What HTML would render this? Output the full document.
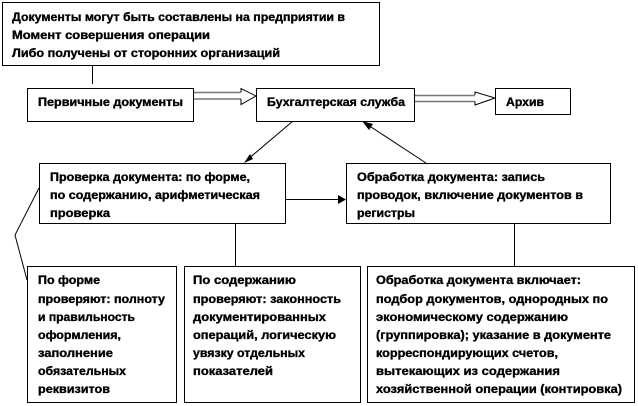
<!DOCTYPE html>
<html lang="ru">
<head>
<meta charset="utf-8">
<title>Документооборот</title>
<style>
html,body{margin:0;padding:0;background:#fff;width:638px;height:406px;overflow:hidden}
svg{display:block}
text{font-family:"Liberation Sans",Arial,sans-serif;font-size:12px;font-weight:bold;fill:#000;stroke:#000;stroke-width:.35}
.b{fill:#fff;stroke:#000;stroke-width:1;shape-rendering:crispEdges}
.l{fill:none;stroke:#000;stroke-width:1}
.g{fill:none;stroke:#777;stroke-width:1.4}
</style>
</head>
<body>
<svg width="638" height="406" viewBox="0 0 638 406" xmlns="http://www.w3.org/2000/svg">
<!-- connectors -->
<path class="l" d="M92.5 65V84"/>
<path class="l" d="M293 121L247 160"/>
<path d="M244 163L250 154L253 159Z" fill="#000"/>
<path class="l" d="M426 163L368 125"/>
<path d="M362 121L373 124L369 130Z" fill="#000"/>
<path class="l" d="M285 199.5H340"/>
<path d="M346 199.5L338 195V204Z" fill="#000"/>
<path class="l" d="M235.5 223V267"/>
<path class="l" d="M514.5 223V266"/>
<path class="l" d="M39 188L15 235L27 280" stroke-width=".8"/>
<!-- double arrows -->
<path class="g" d="M193 92.5H241M193 99H241"/>
<path class="l" d="M241 92V88.5L256 96L241 104.5V99" stroke="#444"/>
<path class="g" d="M414 95.5H475M414 101.5H475"/>
<path class="l" d="M475 95V92L495 98L475 105V101.5" stroke="#444"/>
<!-- boxes -->
<rect class="b" x="2.5" y="2.5" width="377" height="63"/>
<rect class="b" x="27.5" y="88.5" width="166" height="33"/>
<rect class="b" x="256.5" y="88.5" width="158" height="33"/>
<rect class="b" x="495.5" y="88.5" width="75" height="26"/>
<rect class="b" x="39.5" y="163.5" width="246" height="60"/>
<rect class="b" x="346.5" y="163.5" width="264" height="60"/>
<rect class="b" style="fill:none" x="27.5" y="266.5" width="149" height="136"/>
<rect class="b" x="184.5" y="266.5" width="176" height="136"/>
<rect class="b" x="367.5" y="266.5" width="267" height="136"/>
<!-- labels -->
<text x="12" y="21" textLength="333" lengthAdjust="spacingAndGlyphs">Документы могут быть составлены на предприятии в</text>
<text x="12" y="39" textLength="198" lengthAdjust="spacingAndGlyphs">Момент совершения операции</text>
<text x="12" y="57" textLength="268" lengthAdjust="spacingAndGlyphs">Либо получены от сторонних организаций</text>
<text x="38" y="106" textLength="145" lengthAdjust="spacingAndGlyphs">Первичные документы</text>
<text x="267" y="106" textLength="138" lengthAdjust="spacingAndGlyphs">Бухгалтерская служба</text>
<text x="506" y="106" textLength="38" lengthAdjust="spacingAndGlyphs">Архив</text>

<text x="50" y="181" textLength="200" lengthAdjust="spacingAndGlyphs">Проверка документа: по форме,</text>
<text x="50" y="199" textLength="210" lengthAdjust="spacingAndGlyphs">по содержанию, арифметическая</text>
<text x="50" y="217" textLength="60" lengthAdjust="spacingAndGlyphs">проверка</text>

<text x="357" y="181" textLength="188" lengthAdjust="spacingAndGlyphs">Обработка документа: запись</text>
<text x="357" y="199" textLength="226" lengthAdjust="spacingAndGlyphs">проводок, включение документов в</text>
<text x="357" y="217" textLength="58" lengthAdjust="spacingAndGlyphs">регистры</text>

<text x="38" y="284" textLength="62" lengthAdjust="spacingAndGlyphs">По форме</text>
<text x="38" y="303" textLength="127" lengthAdjust="spacingAndGlyphs">проверяют: полноту</text>
<text x="38" y="321" textLength="97" lengthAdjust="spacingAndGlyphs">и правильность</text>
<text x="38" y="339" textLength="83" lengthAdjust="spacingAndGlyphs">оформления,</text>
<text x="38" y="357" textLength="75" lengthAdjust="spacingAndGlyphs">заполнение</text>
<text x="38" y="375" textLength="88" lengthAdjust="spacingAndGlyphs">обязательных</text>
<text x="38" y="393" textLength="72" lengthAdjust="spacingAndGlyphs">реквизитов</text>

<text x="193" y="284" textLength="103" lengthAdjust="spacingAndGlyphs">По содержанию</text>
<text x="193" y="303" textLength="148" lengthAdjust="spacingAndGlyphs">проверяют: законность</text>
<text x="193" y="321" textLength="133" lengthAdjust="spacingAndGlyphs">документированных</text>
<text x="193" y="339" textLength="143" lengthAdjust="spacingAndGlyphs">операций, логическую</text>
<text x="193" y="357" textLength="112" lengthAdjust="spacingAndGlyphs">увязку отдельных</text>
<text x="193" y="375" textLength="80" lengthAdjust="spacingAndGlyphs">показателей</text>

<text x="376" y="284" textLength="205" lengthAdjust="spacingAndGlyphs">Обработка документа включает:</text>
<text x="376" y="303" textLength="232" lengthAdjust="spacingAndGlyphs">подбор документов, однородных по</text>
<text x="376" y="321" textLength="192" lengthAdjust="spacingAndGlyphs">экономическому содержанию</text>
<text x="376" y="339" textLength="235" lengthAdjust="spacingAndGlyphs">(группировка); указание в документе</text>
<text x="376" y="357" textLength="182" lengthAdjust="spacingAndGlyphs">корреспондирующих счетов,</text>
<text x="376" y="375" textLength="184" lengthAdjust="spacingAndGlyphs">вытекающих из содержания</text>
<text x="376" y="393" textLength="246" lengthAdjust="spacingAndGlyphs">хозяйственной операции  (контировка)</text>
</svg>
</body>
</html>
